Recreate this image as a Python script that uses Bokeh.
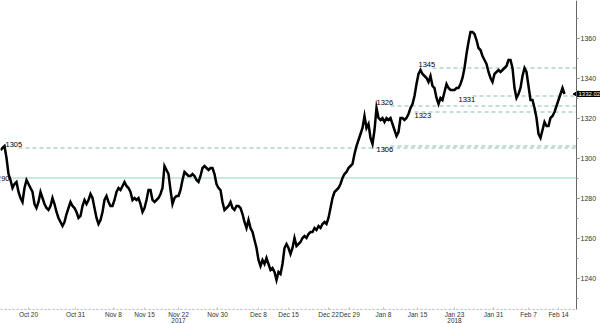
import math
from bokeh.plotting import figure
from bokeh.models import Range1d, LinearAxis, FixedTicker, Label, ColumnDataSource
from bokeh.core.properties import value
from bokeh.embed import file_html
from bokeh.resources import INLINE

# Gold spot price, sampled bar closes (Oct 2017 - Feb 2018)
gold_close = [
    1304, 1305, 1306, 1300, 1292, 1289, 1285, 1287, 1288, 1283,
    1280, 1278, 1285, 1289, 1287, 1285, 1283, 1277, 1275, 1278,
    1283, 1280, 1277, 1275, 1274, 1276, 1280, 1277, 1273, 1270,
    1268, 1266, 1268, 1272, 1275, 1278, 1276, 1275, 1273, 1270,
    1271, 1276, 1279, 1277, 1279, 1282, 1280, 1275, 1270, 1267,
    1269, 1273, 1279, 1281, 1278, 1276, 1276, 1279, 1283, 1285,
    1284, 1286, 1288, 1286, 1285, 1283, 1279, 1280, 1279, 1280,
    1277, 1273, 1275, 1279, 1284, 1284, 1279, 1278, 1279, 1280,
    1282, 1285, 1296, 1294, 1292, 1284, 1277, 1280, 1281, 1281,
    1284, 1289, 1293, 1292, 1291, 1291, 1292, 1291, 1289, 1288,
    1291, 1295, 1296, 1295, 1294, 1295, 1295, 1292, 1287, 1285,
    1284, 1278, 1274, 1275, 1276, 1278, 1275, 1274, 1276, 1276,
    1275, 1272, 1268, 1265, 1269, 1265, 1263, 1259, 1255, 1249,
    1246, 1249, 1247, 1250, 1247, 1244, 1245, 1243, 1239, 1243,
    1242, 1247, 1255, 1257, 1255, 1252, 1255, 1260, 1256, 1257,
    1258, 1260, 1261, 1260, 1262, 1263, 1263, 1265, 1264, 1266,
    1265, 1267, 1268, 1267, 1270, 1275, 1280, 1283, 1284, 1285,
    1287, 1290, 1292, 1293, 1295, 1296, 1297, 1302, 1306, 1309,
    1312, 1315, 1321, 1315, 1317, 1310, 1307, 1314, 1325, 1320,
    1319, 1320, 1318, 1320, 1319, 1320, 1317, 1314, 1311, 1313,
    1320, 1320, 1319, 1320, 1322, 1325, 1327, 1331, 1337, 1342,
    1344, 1342, 1341, 1340, 1338, 1341, 1336, 1335, 1330, 1327,
    1330, 1329, 1333, 1337, 1335, 1334, 1334, 1334, 1335, 1335,
    1337, 1340, 1345, 1352, 1358, 1363, 1363, 1362, 1359, 1355,
    1354, 1351, 1349, 1347, 1343, 1340, 1338, 1342, 1343, 1344,
    1343, 1344, 1345, 1346, 1349, 1349, 1345, 1335, 1330, 1332,
    1335, 1341, 1345, 1343, 1336, 1329, 1329, 1325, 1320, 1312,
    1310, 1314, 1318, 1316, 1316, 1320, 1321, 1323, 1326, 1329,
    1332, 1335, 1332,
]
bar_index = list(range(len(gold_close)))

# Date tick labels (positions in bar index)
tick_index = [14, 37.5, 56.5, 72, 89, 108.5, 129, 144, 164, 174.5, 191.5, 208.5, 227, 246.5, 264, 279]
tick_labels = ["Oct 20", "Oct 31", "Nov 8", "Nov 15", "Nov 22", "Nov 30", "Dec 8", "Dec 15",
               "Dec 22", "Dec 29", "Jan 8", "Jan 15", "Jan 23", "Jan 31", "Feb 7", "Feb 14"]
year_labels = ["2017", "2018"]
year_index = [89, 227]

# Support / resistance levels
level_values = [1345, 1331, 1326, 1323, 1306, 1305]
level_start = [216, 236, 195, 207, 195, 9]
level_text = ["1345", "1331", "1326", "1323", "1306", "1305"]
level_text_index = [209, 229, 188, 207, 188, 2.5]
level_text_above = [True, False, True, False, False, True]
solid_level = 1290
solid_level_start = 4.5
last_price = "1332.02"
last_value = 1332.02

price_ticks = [1240, 1260, 1280, 1300, 1320, 1340, 1360]

FONT = "Liberation Sans"
X_AXIS_AT = 288          # last bar slot, where the price axis sits
X_END = 300
Y_END = 1378.75
Y_START = 1217.25
Y_AXIS_AT = 1224.25      # price level where the date axis sits

p = figure(width=600, height=323, output_backend="svg", toolbar_location=None,
           x_range=Range1d(0, X_END), y_range=Range1d(Y_START, Y_END),
           min_border_left=0, min_border_top=0, min_border_right=0, min_border_bottom=0,
           y_axis_location=None, x_axis_location=None)
p.outline_line_color = None
p.grid.visible = False
p.background_fill_color = "white"
p.border_fill_color = "white"

# level lines
dash_color = "#86bcae"
p.segment(x0=level_start, x1=[X_AXIS_AT] * len(level_start), y0=level_values, y1=level_values,
          line_color=dash_color, line_width=1, line_dash="4 3")
p.segment(x0=[solid_level_start], x1=[X_AXIS_AT], y0=[solid_level], y1=[solid_level],
          line_color="#96d3c3", line_width=1)

# price line
p.line(bar_index, gold_close, line_color="black", line_width=2.5, line_join="miter")

# level labels
above_src = ColumnDataSource(dict(
    x=[level_text_index[i] for i in range(len(level_values)) if level_text_above[i]],
    y=[level_values[i] for i in range(len(level_values)) if level_text_above[i]],
    t=[level_text[i] for i in range(len(level_values)) if level_text_above[i]]))
below_src = ColumnDataSource(dict(
    x=[level_text_index[i] for i in range(len(level_values)) if not level_text_above[i]],
    y=[level_values[i] for i in range(len(level_values)) if not level_text_above[i]],
    t=[level_text[i] for i in range(len(level_values)) if not level_text_above[i]]))
p.text(x="x", y="y", text="t", source=above_src, text_font=value(FONT), text_font_size="7.5px",
       text_color="black", text_baseline="bottom", text_align="left", y_offset=-1)
p.text(x="x", y="y", text="t", source=below_src, text_font=value(FONT), text_font_size="7.5px",
       text_color="black", text_baseline="top", text_align="left", y_offset=1)
p.text(x=[solid_level_start], y=[solid_level], text=[str(solid_level)], text_font=value(FONT),
       text_font_size="7.5px", text_color="black", text_baseline="middle", text_align="right")

# right price axis (fixed at the last bar slot)
yaxis = LinearAxis(ticker=FixedTicker(ticks=price_ticks,
                                      minor_ticks=list(range(1230, 1380, 10))),
                   fixed_location=X_AXIS_AT, bounds=(Y_AXIS_AT, Y_END))
yaxis.axis_line_color = "#666666"
yaxis.axis_line_width = 1
yaxis.major_tick_line_color = "#666666"
yaxis.major_tick_out = 3
yaxis.major_tick_in = 0
yaxis.minor_tick_line_color = "#999999"
yaxis.minor_tick_out = 2
yaxis.minor_tick_in = 0
yaxis.major_label_text_font = FONT
yaxis.major_label_text_font_size = "7px"
yaxis.major_label_text_color = "#333333"
yaxis.major_label_standoff = 1
p.add_layout(yaxis, "right")

# bottom date axis (fixed at the bottom price level)
xaxis = LinearAxis(ticker=FixedTicker(ticks=tick_index, minor_ticks=list(range(0, X_AXIS_AT, 3))),
                   major_label_overrides={t: l for t, l in zip(tick_index, tick_labels)},
                   fixed_location=Y_AXIS_AT, bounds=(0, X_AXIS_AT))
xaxis.axis_line_color = "#bbbbbb"
xaxis.axis_line_dash = "2 2"
xaxis.major_tick_line_color = "#bbbbbb"
xaxis.major_tick_out = 0
xaxis.major_tick_in = 2
xaxis.minor_tick_line_color = "#cccccc"
xaxis.minor_tick_out = 0
xaxis.minor_tick_in = 1
xaxis.major_label_text_font = FONT
xaxis.major_label_text_font_size = "6.5px"
xaxis.major_label_text_color = "#333333"
xaxis.major_label_standoff = 1
p.add_layout(xaxis, "below")

for yl, yi in zip(year_labels, year_index):
    p.add_layout(Label(x=yi, y=Y_AXIS_AT - 5.5, x_units="data", y_units="data", text=yl,
                       text_font=FONT, text_font_size="6.5px", text_color="#333333",
                       text_align="center", text_baseline="middle"))

# last price tag
p.scatter(x=[X_AXIS_AT], y=[last_value], marker="triangle", size=6, angle=math.pi / 2,
          fill_color="black", line_color="black")
p.add_layout(Label(x=X_AXIS_AT, y=last_value, x_units="data", y_units="data", text=last_price,
                   x_offset=1, text_font=FONT, text_font_size="6px", text_color="white",
                   text_baseline="middle", text_align="left", padding=1,
                   background_fill_color="black", background_fill_alpha=1.0))

open("out.html", "w").write(file_html(p, INLINE))
